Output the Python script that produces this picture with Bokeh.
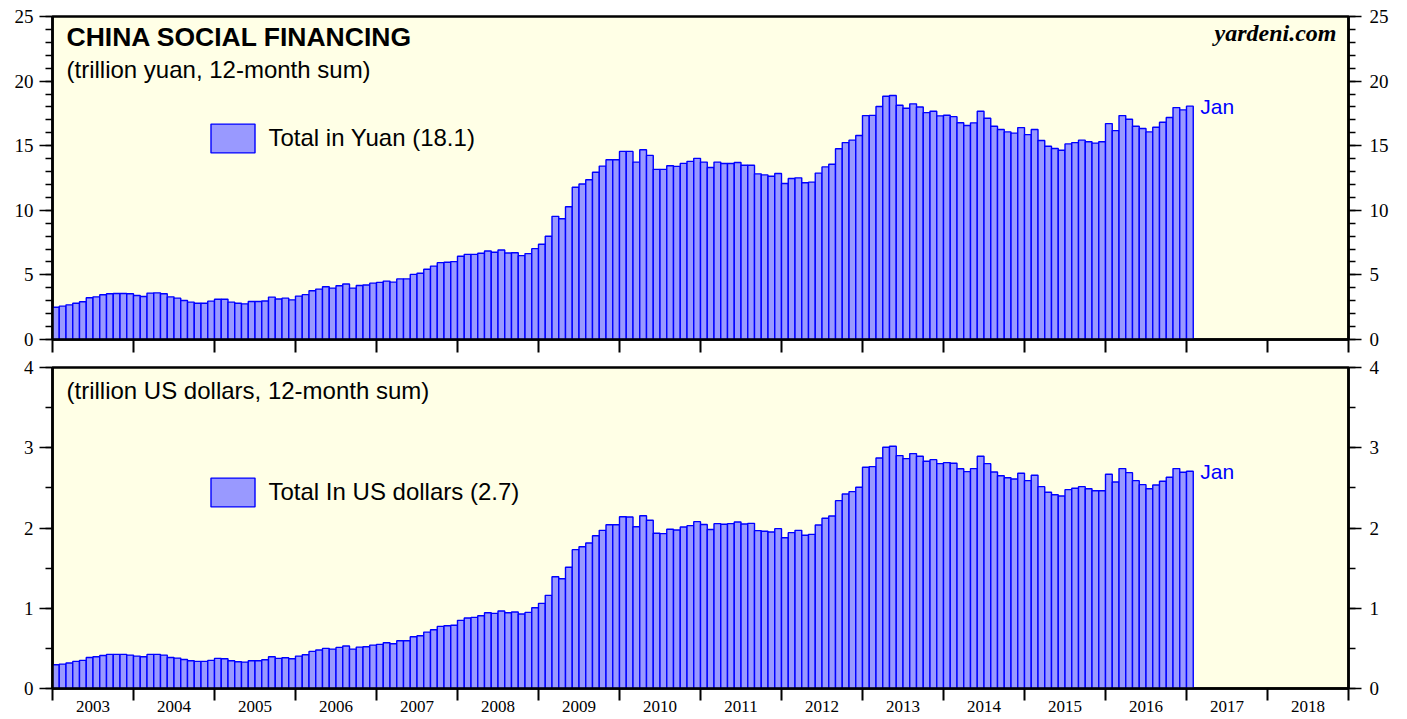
from bokeh.plotting import figure
from bokeh.models import (Range1d, LinearAxis, FixedTicker, SingleIntervalTicker,
                          Label, Legend, LegendItem)
from bokeh.layouts import column
from bokeh.embed import file_html
from bokeh.resources import INLINE

# ---------------- data ----------------
start_year = 2003
tick_years = list(range(2003, 2020))
label_years = list(range(2003, 2019))

# China social financing, trillion yuan, 12-month sum (monthly, Jan 2003 .. Jan 2017)
yuan = [
    2.50, 2.58, 2.68, 2.81, 2.92, 3.23, 3.30, 3.46, 3.54, 3.56, 3.56, 3.54,
    3.41, 3.33, 3.59, 3.61, 3.54, 3.30, 3.20, 3.02, 2.89, 2.81, 2.81, 2.97,
    3.12, 3.12, 2.89, 2.81, 2.76, 2.94, 2.94, 2.98, 3.28, 3.14, 3.20, 3.07,
    3.36, 3.47, 3.77, 3.90, 4.08, 3.98, 4.16, 4.29, 3.98, 4.18, 4.22, 4.36,
    4.42, 4.52, 4.44, 4.69, 4.69, 5.04, 5.13, 5.44, 5.68, 5.95, 5.98, 6.03,
    6.44, 6.59, 6.59, 6.67, 6.85, 6.75, 6.93, 6.70, 6.72, 6.49, 6.65, 7.03,
    7.37, 7.99, 9.53, 9.35, 10.28, 11.78, 12.03, 12.37, 12.94, 13.42, 13.91, 13.91,
    14.56, 14.56, 13.73, 14.69, 14.25, 13.17, 13.17, 13.45, 13.40, 13.63, 13.79, 14.02,
    13.73, 13.31, 13.73, 13.62, 13.62, 13.70, 13.49, 13.49, 12.82, 12.74, 12.64, 12.85,
    12.07, 12.46, 12.51, 12.13, 12.18, 12.88, 13.36, 13.57, 14.76, 15.24, 15.43, 15.79,
    17.33, 17.35, 18.03, 18.83, 18.88, 18.13, 17.90, 18.24, 18.00, 17.56, 17.67, 17.31,
    17.36, 17.25, 16.78, 16.56, 16.77, 17.67, 17.13, 16.51, 16.25, 16.07, 15.97, 16.40,
    15.86, 16.25, 15.40, 14.96, 14.78, 14.65, 15.14, 15.24, 15.43, 15.30, 15.20, 15.30,
    16.71, 16.17, 17.33, 17.05, 16.51, 16.33, 16.07, 16.43, 16.82, 17.18, 17.95, 17.77,
    18.06,
]

# same, trillion US dollars
usd = [
    0.296, 0.304, 0.317, 0.338, 0.350, 0.387, 0.395, 0.412, 0.425, 0.425, 0.425, 0.416,
    0.404, 0.395, 0.425, 0.425, 0.416, 0.387, 0.379, 0.362, 0.346, 0.338, 0.338, 0.350,
    0.375, 0.371, 0.346, 0.333, 0.329, 0.346, 0.346, 0.358, 0.395, 0.375, 0.383, 0.371,
    0.404, 0.420, 0.462, 0.479, 0.500, 0.491, 0.512, 0.529, 0.491, 0.516, 0.520, 0.541,
    0.550, 0.570, 0.558, 0.595, 0.595, 0.645, 0.657, 0.703, 0.732, 0.774, 0.782, 0.788,
    0.849, 0.878, 0.886, 0.907, 0.944, 0.936, 0.965, 0.944, 0.953, 0.928, 0.948, 1.006,
    1.061, 1.161, 1.393, 1.368, 1.510, 1.730, 1.767, 1.813, 1.904, 1.971, 2.041, 2.041,
    2.141, 2.137, 2.016, 2.153, 2.096, 1.934, 1.930, 1.984, 1.975, 2.012, 2.029, 2.079,
    2.044, 1.982, 2.054, 2.046, 2.054, 2.075, 2.050, 2.058, 1.967, 1.959, 1.950, 1.992,
    1.879, 1.942, 1.971, 1.909, 1.921, 2.037, 2.121, 2.150, 2.341, 2.424, 2.453, 2.507,
    2.757, 2.765, 2.873, 3.006, 3.019, 2.902, 2.865, 2.927, 2.894, 2.832, 2.852, 2.802,
    2.815, 2.806, 2.738, 2.702, 2.740, 2.894, 2.802, 2.698, 2.652, 2.627, 2.611, 2.682,
    2.590, 2.657, 2.515, 2.445, 2.415, 2.399, 2.478, 2.495, 2.515, 2.490, 2.465, 2.465,
    2.669, 2.574, 2.740, 2.690, 2.590, 2.540, 2.490, 2.536, 2.582, 2.632, 2.740, 2.694,
    2.707,
]

last_month = "Jan"
title = "CHINA SOCIAL FINANCING"
sub_top = "(trillion yuan, 12-month sum)"
sub_bot = "(trillion US dollars, 12-month sum)"
legend_top = "Total in Yuan (18.1)"
legend_bot = "Total In US dollars (2.7)"
credit = "yardeni.com"

# ---------------- style ----------------
SANS = "Liberation Sans"
SERIF = "Liberation Serif"
BG = "#FFFFE6"
FILL = "#9999FF"
EDGE = "#0000FF"
W = 1407
FRAME_W = 1296
LEFT = 52
RIGHT = W - LEFT - FRAME_W

x_mid = [start_year + (i + 0.5) / 12 for i in range(len(yuan))]
bar_w = 1 / 12
x_end = start_year + len(yuan) / 12


def base_fig(height, frame_h, top, bottom, ymax):
    p = figure(width=W, height=height, output_backend="svg", toolbar_location=None,
               x_range=Range1d(tick_years[0], tick_years[-1]), y_range=Range1d(0, ymax),
               min_border_left=LEFT, min_border_right=RIGHT,
               min_border_top=top, min_border_bottom=bottom,
               frame_width=FRAME_W, frame_height=frame_h)
    p.background_fill_color = BG
    p.border_fill_color = "white"
    p.outline_line_color = "black"
    p.outline_line_width = 2.5
    p.xgrid.visible = False
    p.ygrid.visible = False
    return p


def style_y(ax, interval, nminor, side):
    ax.ticker = SingleIntervalTicker(interval=interval, num_minor_ticks=nminor)
    ax.major_tick_in = 0
    ax.major_tick_out = 13
    ax.minor_tick_in = 0
    ax.minor_tick_out = 7
    ax.major_tick_line_width = 1.5
    ax.minor_tick_line_width = 1.5
    ax.axis_line_width = 2.5
    ax.major_label_text_font = SERIF
    ax.major_label_text_font_size = "19px"
    ax.major_label_text_color = "black"
    ax.major_label_standoff = 6 if side == "left" else 8


def add_y_axes(p, interval, nminor):
    style_y(p.yaxis[0], interval, nminor, "left")
    right = LinearAxis()
    style_y(right, interval, nminor, "right")
    p.add_layout(right, "right")


def bx(px):  # page px -> year position (for annotation placement)
    return tick_years[0] + (px - 52) / 81.0


def add_legend(p, r, label, bottom_px):
    leg = Legend(items=[LegendItem(label=label, renderers=[r])],
                 location=(152.5, bottom_px),
                 glyph_width=55, glyph_height=36, label_standoff=9, padding=0, margin=0,
                 border_line_color=None, background_fill_alpha=0,
                 label_text_font=SANS, label_text_font_size="24px",
                 label_text_color="black")
    p.add_layout(leg)


# ---------------- top panel ----------------
p1 = base_fig(357, 323, 16, 18, 25)
add_y_axes(p1, 5, 5)
xa = p1.xaxis[0]
xa.ticker = FixedTicker(ticks=[], minor_ticks=tick_years)
xa.major_tick_line_color = None
xa.minor_tick_in = 0
xa.minor_tick_out = 13
xa.minor_tick_line_width = 2
xa.axis_line_width = 2.5
xa.major_label_standoff = 0

r1 = p1.vbar(x=x_mid, top=yuan, width=bar_w, bottom=0,
             fill_color=FILL, line_color=EDGE, line_width=1.4)


def ty(py):  # page px -> top data value
    return (339.1 - py) / 12.94


p1.add_layout(Label(x=bx(66), y=ty(36.5), text=title, text_font=SANS, text_font_size="26.5px",
                    text_font_style="bold", text_baseline="middle", text_color="black"))
p1.add_layout(Label(x=bx(66), y=ty(69), text=sub_top, text_font=SANS, text_font_size="24px",
                    text_baseline="middle", text_color="black"))
p1.add_layout(Label(x=bx(1336), y=ty(32), text=credit, text_font=SERIF, text_font_size="24px",
                    text_font_style="bold italic", text_align="right", text_baseline="middle",
                    text_color="black"))
p1.add_layout(Label(x=x_end + 7 / 81.0, y=yuan[-1], text=last_month, text_font=SANS,
                    text_font_size="21px", text_baseline="middle", text_color=EDGE))
add_legend(p1, r1, legend_top, 183.4)

# ---------------- bottom panel ----------------
p2 = base_fig(361, 321, 10, 30, 4)
add_y_axes(p2, 1, 2)
xb = p2.xaxis[0]
xb.ticker = FixedTicker(ticks=[y + 0.5 for y in label_years], minor_ticks=tick_years)
xb.major_label_overrides = {y + 0.5: str(y) for y in label_years}
xb.major_tick_in = 0
xb.major_tick_out = 0
xb.major_tick_line_color = None
xb.minor_tick_in = 0
xb.minor_tick_out = 12
xb.minor_tick_line_width = 2
xb.axis_line_width = 2.5
xb.major_label_text_font = SERIF
xb.major_label_text_font_size = "17px"
xb.major_label_text_color = "black"
xb.major_label_standoff = 0

r2 = p2.vbar(x=x_mid, top=usd, width=bar_w, bottom=0,
             fill_color=FILL, line_color=EDGE, line_width=1.4)


def by(py):  # page px -> bottom data value
    return (688.4 - py) / 80.2


p2.add_layout(Label(x=bx(66), y=by(391), text=sub_bot, text_font=SANS, text_font_size="24px",
                    text_baseline="middle", text_color="black"))
p2.add_layout(Label(x=x_end + 7 / 81.0, y=usd[-1], text=last_month, text_font=SANS,
                    text_font_size="21px", text_baseline="middle", text_color=EDGE))
add_legend(p2, r2, legend_bot, 178.4)

layout = column(p1, p2, spacing=0)
open("out.html", "w").write(file_html(layout, INLINE))
